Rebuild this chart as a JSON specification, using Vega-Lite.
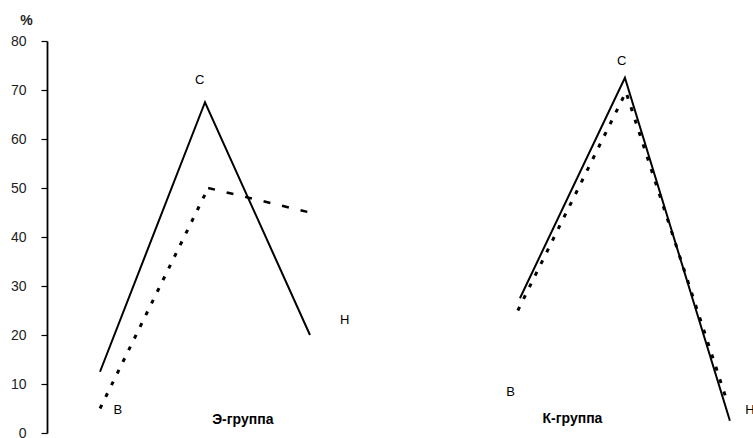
{
  "$schema": "https://vega.github.io/schema/vega-lite/v6.json",
  "width": 706,
  "height": 392,
  "padding": {"left": 47, "top": 41, "right": 0, "bottom": 5},
  "autosize": {"type": "none"},
  "config": {"view": {"stroke": null}, "font": "Liberation Sans"},
  "datasets": {
    "lines": [
      {"s": "solidL", "style": "solid", "x": 1, "y": 12.5},
      {"s": "solidL", "style": "solid", "x": 2, "y": 67.5},
      {"s": "solidL", "style": "solid", "x": 3, "y": 20},
      {"s": "dotL", "style": "dot", "x": 1, "y": 5},
      {"s": "dotL", "style": "dot", "x": 2.03, "y": 50},
      {"s": "dashL", "style": "dash", "x": 2.03, "y": 50},
      {"s": "dashL", "style": "dash", "x": 3, "y": 45},
      {"s": "solidR", "style": "solid", "x": 5, "y": 27.5},
      {"s": "solidR", "style": "solid", "x": 6, "y": 72.5},
      {"s": "solidR", "style": "solid", "x": 7, "y": 2.5},
      {"s": "dotR", "style": "dot", "x": 4.98, "y": 25},
      {"s": "dotR", "style": "dot", "x": 6.01, "y": 69.6},
      {"s": "dotR", "style": "dot", "x": 6.98, "y": 6}
    ],
    "labels": [
      {"t": "В", "x": 1.17, "y": 4.7},
      {"t": "С", "x": 1.95, "y": 72},
      {"t": "Н", "x": 3.33, "y": 23},
      {"t": "В", "x": 4.91, "y": 8.4},
      {"t": "С", "x": 5.97, "y": 76},
      {"t": "Н", "x": 7.19, "y": 4.7}
    ],
    "groups": [
      {"t": "Э-группа", "x": 2.36, "y": 2.6},
      {"t": "К-группа", "x": 5.5, "y": 2.9}
    ]
  },
  "encoding": {
    "x": {"field": "x", "type": "quantitative", "scale": {"domain": [0.495, 7.22], "nice": false, "zero": false}, "axis": null},
    "y": {
      "field": "y", "type": "quantitative",
      "scale": {"domain": [0, 80], "nice": false},
      "axis": {
        "values": [0, 10, 20, 30, 40, 50, 60, 70, 80],
        "grid": false,
        "domainColor": "black",
        "domainWidth": 1.8,
        "tickColor": "black",
        "tickSize": 6,
        "tickWidth": 1.2,
        "labelFontSize": 14,
        "labelColor": "#222",
        "labelPadding": 15,
        "title": "%",
        "titleAngle": 0,
        "titleFontSize": 14,
        "titleFontWeight": "bold",
        "titleColor": "#222",
        "titleX": -21,
        "titleY": -21,
        "titleAlign": "center",
        "titleBaseline": "middle"
      }
    }
  },
  "layer": [
    {
      "data": {"name": "lines"},
      "transform": [{"filter": "datum.style === 'solid'"}],
      "mark": {"type": "line", "color": "black", "strokeWidth": 2},
      "encoding": {"detail": {"field": "s"}}
    },
    {
      "data": {"name": "lines"},
      "transform": [{"filter": "datum.style === 'dot'"}],
      "mark": {"type": "line", "color": "black", "strokeWidth": 3, "strokeDash": [4, 9]},
      "encoding": {"detail": {"field": "s"}}
    },
    {
      "data": {"name": "lines"},
      "transform": [{"filter": "datum.style === 'dash'"}],
      "mark": {"type": "line", "color": "black", "strokeWidth": 2.5, "strokeDash": [7, 12]},
      "encoding": {"detail": {"field": "s"}}
    },
    {
      "data": {"name": "labels"},
      "mark": {"type": "text", "fontSize": 13, "color": "black", "align": "center", "baseline": "middle"},
      "encoding": {"text": {"field": "t"}}
    },
    {
      "data": {"name": "groups"},
      "mark": {"type": "text", "fontSize": 14, "fontWeight": "bold", "color": "black", "align": "center", "baseline": "middle"},
      "encoding": {"text": {"field": "t"}}
    }
  ]
}
